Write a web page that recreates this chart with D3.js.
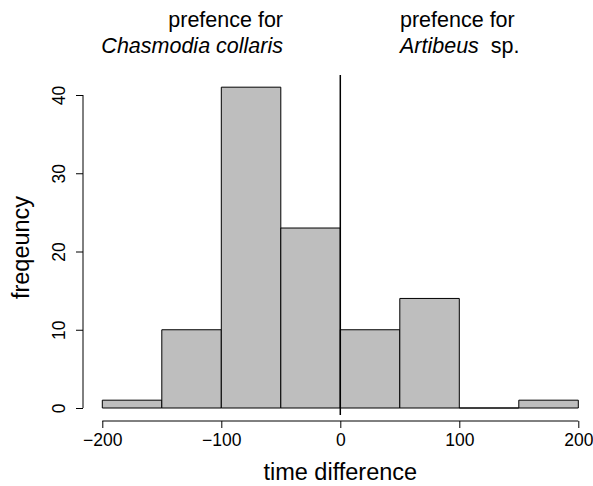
<!DOCTYPE html>
<html>
<head>
<meta charset="utf-8">
<script src="https://cdn.jsdelivr.net/npm/d3@7"></script>
<style>
  html, body { margin: 0; padding: 0; background: #fff; }
  svg { display: block; font-family: "Liberation Sans", Arial, sans-serif; }
</style>
</head>
<body>
<svg id="chart" width="593" height="486"></svg>
<script>
// Histogram of time differences, bins of width 50
const binStarts = [-200, -150, -100, -50, 0, 50, 100, 150];
const binWidth = 50;
const counts = [1, 10, 41, 23, 10, 14, 0, 1];
const xTicks = [-200, -100, 0, 100, 200];
const yTicks = [0, 10, 20, 30, 40];
const xTitle = "time difference";
const yTitle = "freqeuncy";

const svg = d3.select("#chart");
const FONT = "Liberation Sans, Arial, sans-serif";

const x = d3.scaleLinear().domain([-200, 200]).range([102.3, 578.3]);
const y = d3.scaleLinear().domain([0, 40]).range([408, 95]);

// bars as closed paths, so an empty bin still shows its outline
svg.append("g").selectAll("path")
  .data(binStarts.map((s, i) => ({ s, c: counts[i] })))
  .join("path")
  .attr("d", d => {
    const x0 = x(d.s), x1 = x(d.s + binWidth), y0 = y(0), y1 = y(d.c);
    return `M${x0},${y0}V${y1}H${x1}V${y0}Z`;
  })
  .attr("fill", "#bebebe")
  .attr("stroke", "#000")
  .attr("stroke-width", 1);

// x axis
const xAxis = svg.append("g").attr("transform", "translate(0,421)")
  .call(d3.axisBottom(x).tickValues(xTicks).tickSize(7).tickPadding(6)
    .tickFormat(d => d < 0 ? "\u2212" + Math.abs(d) : d))
  .call(g => g.select(".domain").attr("d", `M${x(-200)},0H${x(200)}`));
xAxis.selectAll("text").attr("font-size", 17.5).attr("fill", "#000")
  .attr("font-family", FONT);
xAxis.selectAll("line, path").attr("stroke", "#000");

// y axis with rotated tick labels
const yAxis = svg.append("g").attr("transform", "translate(83,0)")
  .call(d3.axisLeft(y).tickValues(yTicks).tickSize(7).tickFormat(d3.format("d")))
  .call(g => g.select(".domain").attr("d", `M0,${y(0)}V${y(40)}`));
yAxis.selectAll("line, path").attr("stroke", "#000");
yAxis.selectAll("text")
  .attr("font-size", 17.5).attr("fill", "#000")
  .attr("font-family", FONT)
  .attr("x", null).attr("y", null).attr("dy", null)
  .attr("text-anchor", "middle")
  .attr("transform", "translate(-18,0) rotate(-90)");

// vertical line at zero
svg.append("line")
  .attr("x1", x(0)).attr("x2", x(0))
  .attr("y1", 75).attr("y2", 415)
  .attr("stroke", "#000").attr("stroke-width", 1.5);

// axis titles
svg.append("text")
  .attr("x", x(0)).attr("y", 480)
  .attr("text-anchor", "middle").attr("font-size", 23.5)
  .text(xTitle);
svg.append("text")
  .attr("transform", "translate(29,247.5) rotate(-90)")
  .attr("text-anchor", "middle").attr("font-size", 23.5)
  .text(yTitle);

// side annotations
const left = svg.append("text").attr("text-anchor", "end").attr("font-size", 21.5);
left.append("tspan").attr("x", 283).attr("y", 27).text("prefence for");
left.append("tspan").attr("x", 283).attr("y", 53).attr("font-style", "italic").text("Chasmodia collaris");

const right = svg.append("text").attr("text-anchor", "start").attr("font-size", 21.5);
right.append("tspan").attr("x", 400).attr("y", 27).text("prefence for");
const r2 = right.append("tspan").attr("x", 400).attr("y", 53);
r2.append("tspan").attr("font-style", "italic").text("Artibeus");
r2.append("tspan").text("\u00a0\u00a0sp.");
</script>
</body>
</html>
